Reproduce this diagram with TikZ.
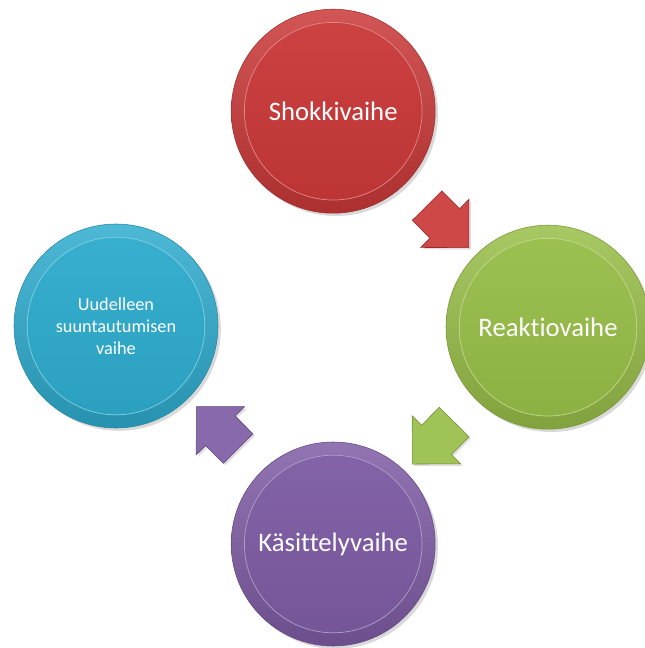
\documentclass[tikz,border=0pt]{standalone}
\usepackage{fontspec}
\setmainfont{Carlito}[Ligatures=NoCommon]
\usetikzlibrary{shapes.arrows,shadows}
\definecolor{shockred}{RGB}{203,56,56}
\definecolor{reactgreen}{RGB}{152,190,72}
\definecolor{processpurple}{RGB}{126,92,164}
\definecolor{reorientblue}{RGB}{46,172,206}

\begin{document}
\begin{tikzpicture}[
    font=\fontsize{19}{22}\selectfont,
    phase/.style={
        circle,
        minimum size=5.1cm,
        inner sep=0pt,
        align=center,
        text=white,
        draw=#1!80!black,
        thin,
        top color=#1!85!white,
        bottom color=#1!85!black,
        drop shadow={opacity=0.3,shadow xshift=0.07cm,shadow yshift=-0.07cm},
        path picture={
            \draw[draw=#1!60!white, line width=0.5pt,
                  top color=#1!95!white, bottom color=#1!92!black]
            (path picture bounding box.center) circle (2.22cm);
        }
    },
    cyclearr/.style={
        single arrow,
        single arrow head extend=0.33cm,
        single arrow tip angle=90,
        inner xsep=0pt,
        inner ysep=0.515cm,
        minimum height=1.48cm,
        fill=#1!92!white,
        draw=#1!75!black,
        thin,
        drop shadow={opacity=0.25,shadow xshift=0.05cm,shadow yshift=-0.05cm},
        sloped,
        allow upside down
    }
]
\useasboundingbox (0,0) rectangle (16.1,-16.2);

% the four phases
\node[phase=shockred] (shock) at (8.33,-2.78) {Shokkivaihe};
\node[phase=reactgreen] (react) at (13.7,-8.18) {Reaktiovaihe};
\node[phase=processpurple] (process) at (8.33,-13.6) {Käsittelyvaihe};
\node[phase=reorientblue, font=\fontsize{13}{15.5}\selectfont] (reorient) at (2.9,-8.15)
{Uudelleen\\suuntautumisen\\vaihe};

% block arrows between the phases
\path (shock) -- node[cyclearr=shockred] (arrA) {} (react);
\path (react) -- node[cyclearr=reactgreen] (arrB) {} (process);
\path (process) -- node[cyclearr=processpurple] (arrC) {} (reorient);

\end{tikzpicture}
\end{document}
